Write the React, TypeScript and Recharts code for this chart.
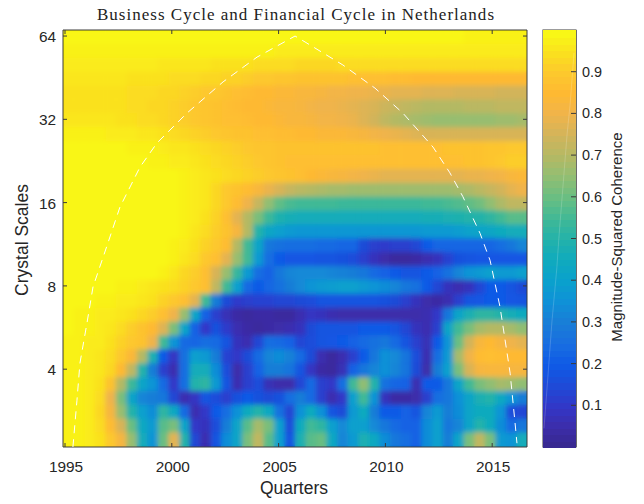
import { ScatterChart, Scatter, XAxis, YAxis } from 'recharts';

// coherence in hundredths, top row = largest scale, left column = 1995
const row00 = [99,99,99,99,99,99,99,99,99,99,99,99,99,99,99,99,99,99,99,99,99,99,99,99,99,99,99,99,99,99,99,99,99,99,99,99,99,99,98,98,98,98,98,98];
const row01 = [98,98,98,98,98,98,98,98,98,98,98,98,98,98,98,98,98,98,98,98,97,97,97,97,97,97,97,97,97,97,97,97,97,97,97,97,97,97,97,97,97,97,97,97];
const row02 = [97,97,97,97,97,97,97,97,97,96,96,96,96,96,95,95,95,95,94,94,94,94,93,93,93,93,94,94,94,94,94,94,94,94,94,94,94,94,94,94,94,94,94,94];
const row03 = [96,96,96,96,96,96,95,95,95,95,94,94,94,93,93,92,92,91,90,90,89,89,88,88,88,88,88,87,87,87,87,86,86,85,85,85,85,85,85,85,85,85,85,85];
const row04 = [95,95,95,95,95,95,94,94,94,93,93,92,91,90,90,88,87,86,85,85,84,84,83,83,82,81,81,80,80,79,79,78,78,78,77,77,77,76,76,76,76,75,75,75];
const row05 = [95,95,95,95,95,95,94,94,93,93,92,91,90,89,88,87,86,85,85,84,83,83,82,81,80,80,79,78,77,76,74,73,72,71,70,70,70,70,71,71,71,72,72,72];
const row06 = [96,96,96,96,96,95,95,94,94,93,92,91,90,89,88,87,87,86,85,85,84,83,83,82,81,81,80,79,77,75,72,70,69,68,67,66,66,66,66,66,66,67,67,68];
const row07 = [98,98,98,98,97,97,97,96,96,95,94,93,92,91,90,89,88,88,87,87,86,86,85,85,84,84,84,83,82,81,80,79,78,77,76,76,76,76,76,76,76,76,76,76];
const row08 = [99,99,99,99,99,99,98,98,98,97,96,96,95,94,93,92,91,90,89,89,88,88,88,88,88,88,88,88,88,88,87,87,87,87,87,87,88,88,88,88,89,89,90,90];
const row09 = [99,99,99,99,99,99,99,99,98,98,97,97,96,95,94,93,92,91,90,89,88,87,87,87,87,87,87,87,87,87,87,87,87,87,87,87,87,87,88,88,89,90,91,91];
const row10 = [99,99,99,99,99,99,99,99,99,99,99,98,97,96,95,94,93,92,91,90,89,88,87,85,84,83,82,81,80,79,78,78,78,78,78,78,78,78,79,79,80,81,83,84];
const row11 = [99,99,99,99,99,99,99,99,99,99,99,98,97,96,93,90,88,86,83,79,76,73,71,70,69,68,68,67,67,67,67,67,67,67,67,67,67,68,69,71,73,75,78,80];
const row12 = [99,99,99,99,99,99,99,99,99,99,99,98,97,96,93,90,86,80,73,65,59,56,55,55,55,55,54,54,54,54,54,54,54,54,55,55,56,57,59,61,65,69,72,72];
const row13 = [99,99,99,99,99,99,99,99,99,99,99,98,97,95,92,87,78,70,62,54,49,47,46,46,46,46,46,46,46,46,46,46,46,46,47,47,48,49,50,50,52,55,58,58];
const row14 = [99,99,99,99,99,99,99,99,99,99,99,98,96,94,91,88,82,70,50,43,40,38,37,37,37,37,37,37,37,37,37,37,37,37,38,38,38,39,41,42,43,45,46,46];
const row15 = [99,99,99,99,99,99,99,99,99,99,98,97,95,92,90,86,70,55,42,28,26,25,25,25,24,24,23,23,15,12,11,12,12,14,20,23,23,23,23,23,23,25,28,32];
const row16 = [99,99,99,99,99,99,99,99,99,99,98,96,94,90,87,78,66,55,38,25,20,19,19,19,18,18,17,16,12,8,5,3,3,4,6,8,13,17,18,19,19,19,19,19];
const row17 = [99,99,99,99,99,99,99,99,99,98,96,93,91,87,76,66,53,38,25,22,28,32,33,33,33,32,31,30,28,24,22,20,18,18,20,22,26,32,36,38,40,38,38,40];
const row18 = [99,99,99,99,99,98,98,97,96,95,94,92,90,87,72,55,40,24,20,23,26,30,33,36,38,39,40,40,38,36,34,32,28,26,20,14,8,6,8,14,20,20,18,15];
const row19 = [99,99,99,98,98,97,97,96,95,92,90,87,78,55,30,15,11,12,13,13,14,14,15,16,18,18,18,18,18,18,17,15,12,8,5,4,6,12,18,19,20,20,19,18];
const row20 = [99,98,98,97,97,96,95,93,91,87,80,66,42,22,12,7,4,3,4,4,3,3,6,9,8,6,5,5,5,5,5,5,5,5,6,10,28,42,48,52,52,50,47,45];
const row21 = [99,98,98,97,96,94,91,88,85,77,62,42,22,10,17,11,6,4,3,4,5,6,8,15,18,18,18,18,20,20,20,18,14,8,6,12,42,55,62,68,70,70,68,65];
const row22 = [98,98,97,97,95,92,90,88,80,55,36,24,23,25,24,18,8,6,14,25,24,22,14,16,18,19,20,22,24,26,28,24,18,12,7,20,36,60,75,83,85,82,80,78];
const row23 = [98,98,97,96,94,90,84,70,48,20,9,26,40,38,30,13,10,15,24,32,34,31,24,15,6,3,6,12,20,28,35,33,27,16,6,25,38,68,80,86,87,86,85,85];
const row24 = [98,98,97,96,93,85,72,50,30,12,6,25,46,46,34,16,5,12,22,30,30,27,18,9,4,3,7,22,28,32,35,32,27,15,5,30,40,62,76,82,83,83,82,82];
const row25 = [98,98,97,95,88,70,54,42,36,24,10,25,50,52,38,18,6,12,16,7,5,5,14,24,12,10,25,55,65,50,26,23,22,6,20,20,28,42,55,62,65,68,67,65];
const row26 = [98,98,97,94,80,62,42,32,30,28,14,6,9,18,16,12,17,20,17,15,17,25,30,24,12,6,10,40,55,36,8,4,4,5,12,25,28,35,42,48,50,44,36,30];
const row27 = [98,98,97,93,82,66,50,40,34,52,44,24,6,10,20,25,35,45,50,44,26,14,35,45,35,18,15,38,45,30,20,20,22,18,32,38,30,34,42,45,45,36,16,14];
const row28 = [98,98,97,94,86,76,60,44,38,58,62,42,10,8,16,30,42,58,68,62,40,16,45,55,52,40,33,40,40,33,28,24,22,22,34,40,28,32,42,50,45,34,24,28];
const row29 = [98,98,97,95,90,82,66,46,36,60,78,50,14,6,18,34,42,62,72,58,40,18,48,58,60,44,32,38,48,44,34,28,25,22,34,40,30,42,62,72,62,38,36,46];
const coherenceRows = [row00,row01,row02,row03,row04,row05,row06,row07,row08,row09,row10,row11,row12,row13,row14,row15,row16,row17,row18,row19,row20,row21,row22,row23,row24,row25,row26,row27,row28,row29];

// cone of influence
const coiYears = [1995.37,1995.56,1995.7,1996.03,1996.31,1996.97,1997.57,1998.51,1999.31,2000.71,2002.4,2003.99,2005.77,2006.24,2008.01,2009.51,2010.82,2012.23,2013.02,2013.63,2014.43,2014.9,2015.37,2015.84,2016.07,2016.16];
const coiScales = [2.09,3.09,4.21,5.88,7.93,11.2,15.4,21.5,26.3,33.7,43.7,53.7,64,60.9,50.3,41.5,33.7,25.4,20.5,16.8,12.4,9.9,6.7,3.87,2.56,2.16];

// faint trace inside the colorbar
const barTraceX = [0.03,0.15,0.27,0.42,0.48,0.61,0.73,0.82,0.94];
const barTraceY = [0.045,0.17,0.3,0.43,0.5,0.63,0.75,0.82,0.945];

const yearTicks = [1995, 2000, 2005, 2010, 2015];
const scaleTicks = [4, 8, 16, 32, 64];
const colorbarTicks = [0.1, 0.2, 0.3, 0.4, 0.5, 0.6, 0.7, 0.8, 0.9];

const colorStops = [
  [55,40,140],[60,45,170],[50,55,200],[30,75,215],[15,90,230],[25,110,225],[25,125,215],
  [15,145,215],[10,160,205],[15,170,190],[35,178,170],[65,185,150],[105,190,130],[145,190,115],
  [180,185,100],[210,180,90],[240,180,75],[254,185,50],[253,200,45],[250,225,30],[249,251,20],
];

const X_MIN = 1994.906, X_MAX = 2016.63;
const Y_MIN = 2.093, Y_MAX = 67.3;
const CELL_W = 464 / 44, CELL_H = 417 / 30;
const AXIS_COLOR = '#3a3a3a';
const TEXT_COLOR = '#262626';
const SANS = '"Liberation Sans", Arial, sans-serif';

function colorOf(v: number) {
  const t = Math.max(0, Math.min(1, v)) * (colorStops.length - 1);
  const i = Math.min(Math.floor(t), colorStops.length - 2);
  const f = t - i;
  const c = colorStops[i].map((a, k) => Math.round(a + (colorStops[i + 1][k] - a) * f));
  return `rgb(${c[0]},${c[1]},${c[2]})`;
}

const cells = coherenceRows.flatMap((row, r) =>
  row.map((v, c) => ({
    year: X_MIN + ((c + 0.5) / 44) * (X_MAX - X_MIN),
    scale: Math.pow(2, 6.072 - (r + 0.5) / 6),
    v: v / 100,
  })),
);
const coi = coiYears.map((year, i) => ({ year, scale: coiScales[i] }));
const barCells = Array.from({ length: 64 }, (_, i) => ({ x: 0.5, y: (i + 0.5) / 64 }));
const barTrace = barTraceX.map((x, i) => ({ x, y: barTraceY[i] }));

const HeatCell = (p: any) => (
  <rect x={p.cx - CELL_W / 2} y={p.cy - CELL_H / 2} width={CELL_W + 0.5} height={CELL_H + 0.5} fill={colorOf(p.payload.v)} />
);
const BarCell = (p: any) => (
  <rect x={543} y={Math.round(p.cy - 3.26)} width={33} height={8} fill={colorOf(p.payload.y)} />
);
const NoDot = () => null;

const BottomTick = ({ x, y, payload }: any) => (
  <g>
    <line x1={x} x2={x} y1={y} y2={y - 4} stroke={AXIS_COLOR} />
    <text x={x + 1} y={y + 25} textAnchor="middle" fontSize={15.4} fontFamily={SANS} fill={TEXT_COLOR}>{payload.value}</text>
  </g>
);
const TopTick = ({ x, y }: any) => <line x1={x} x2={x} y1={y} y2={y + 4} stroke={AXIS_COLOR} />;
const LeftTick = ({ x, y, payload }: any) => (
  <g>
    <line x1={x} x2={x + 4} y1={y} y2={y} stroke={AXIS_COLOR} />
    <text x={x - 7} y={y + 6} textAnchor="end" fontSize={15.4} fontFamily={SANS} fill={TEXT_COLOR}>{payload.value}</text>
  </g>
);
const RightTick = ({ x, y }: any) => <line x1={x} x2={x - 4} y1={y} y2={y} stroke={AXIS_COLOR} />;
const BarTick = ({ x, y, payload }: any) => (
  <g>
    <line x1={x} x2={x - 5} y1={y} y2={y} stroke={AXIS_COLOR} />
    <text x={x + 6} y={y + 5} fontSize={14.4} fontFamily={SANS} fill={TEXT_COLOR}>{payload.value.toFixed(1)}</text>
  </g>
);

export default function App() {
  return (
    <div style={{ position: 'absolute', left: 0, top: 0, width: 644, height: 504, background: '#fff' }}>
      <style>{`.heat { filter: url(#soften); }`}</style>
      {/* heat layer sits under a second chart that carries the axes */}
      <div style={{ position: 'absolute', left: 0, top: 0 }}>
        <ScatterChart width={644} height={504} margin={{ top: 30, right: 117, bottom: 57, left: 63 }}>
          <defs>
            <filter id="soften" filterUnits="userSpaceOnUse" x={63} y={30} width={464} height={417}>
              <feGaussianBlur in="SourceGraphic" stdDeviation={2.8} result="b" />
              <feMerge>
                <feMergeNode in="SourceGraphic" />
                <feMergeNode in="b" />
              </feMerge>
            </filter>
          </defs>
          <XAxis type="number" dataKey="year" domain={[X_MIN, X_MAX]} allowDataOverflow hide />
          <YAxis type="number" dataKey="scale" scale="log" domain={[Y_MIN, Y_MAX]} allowDataOverflow hide />
          <Scatter className="heat" data={cells} shape={HeatCell} isAnimationActive={false} />
        </ScatterChart>
      </div>
      <div style={{ position: 'absolute', left: 0, top: 0 }}>
        <ScatterChart width={644} height={504} margin={{ top: 29, right: 116, bottom: 0, left: 0 }}>
          <XAxis xAxisId="b" type="number" dataKey="year" domain={[X_MIN, X_MAX]} allowDataOverflow ticks={yearTicks} interval={0} height={57} tickSize={0} tickMargin={0} tick={BottomTick} stroke={AXIS_COLOR} />
          <XAxis xAxisId="t" orientation="top" type="number" dataKey="year" domain={[X_MIN, X_MAX]} allowDataOverflow ticks={yearTicks} interval={0} height={1} tickSize={0} tickMargin={0} tick={TopTick} stroke={AXIS_COLOR} />
          <YAxis yAxisId="l" type="number" dataKey="scale" scale="log" domain={[Y_MIN, Y_MAX]} allowDataOverflow ticks={scaleTicks} interval={0} width={63} tickSize={0} tickMargin={0} tick={LeftTick} stroke={AXIS_COLOR} />
          <YAxis yAxisId="r" orientation="right" type="number" dataKey="scale" scale="log" domain={[Y_MIN, Y_MAX]} allowDataOverflow ticks={scaleTicks} interval={0} width={1} tickSize={0} tickMargin={0} tick={RightTick} stroke={AXIS_COLOR} />
          <Scatter xAxisId="b" yAxisId="l" data={coi} shape={NoDot} line={{ stroke: '#fff', strokeWidth: 1, strokeDasharray: '8 6' }} lineType="joint" isAnimationActive={false} />
          <text x={295.5} y={20} textAnchor="middle" fontSize={17} fontFamily='"Liberation Serif", serif' textLength={397} lengthAdjust="spacing" fill="#222">Business Cycle and Financial Cycle in Netherlands</text>
          <text x={294} y={494} textAnchor="middle" fontSize={17.5} fontFamily={SANS} fill={TEXT_COLOR}>Quarters</text>
          <text x={0} y={0} transform="translate(28 240) rotate(-90)" textAnchor="middle" fontSize={17.5} fontFamily={SANS} fill={TEXT_COLOR}>Crystal Scales</text>
        </ScatterChart>
      </div>
      <div style={{ position: 'absolute', left: 0, top: 0 }}>
        <ScatterChart width={644} height={504} margin={{ top: 30, right: 67, bottom: 57, left: 543 }}>
          <XAxis type="number" dataKey="x" domain={[0, 1]} hide />
          <YAxis orientation="right" type="number" dataKey="y" domain={[0, 1]} ticks={colorbarTicks} interval={0} width={1} tickSize={0} tickMargin={0} tick={BarTick} stroke={AXIS_COLOR} />
          <Scatter data={barCells} shape={BarCell} isAnimationActive={false} />
          <Scatter data={barTrace} shape={NoDot} line={{ stroke: '#fff', strokeWidth: 1, strokeOpacity: 0.18 }} lineType="joint" isAnimationActive={false} />
          <rect x={543} y={30} width={33} height={417} fill="none" stroke={AXIS_COLOR} />
          <text x={0} y={0} transform="translate(622 237) rotate(-90)" textAnchor="middle" fontSize={15} fontFamily={SANS} fill={TEXT_COLOR}>Magnitude-Squared Coherence</text>
        </ScatterChart>
      </div>
    </div>
  );
}
